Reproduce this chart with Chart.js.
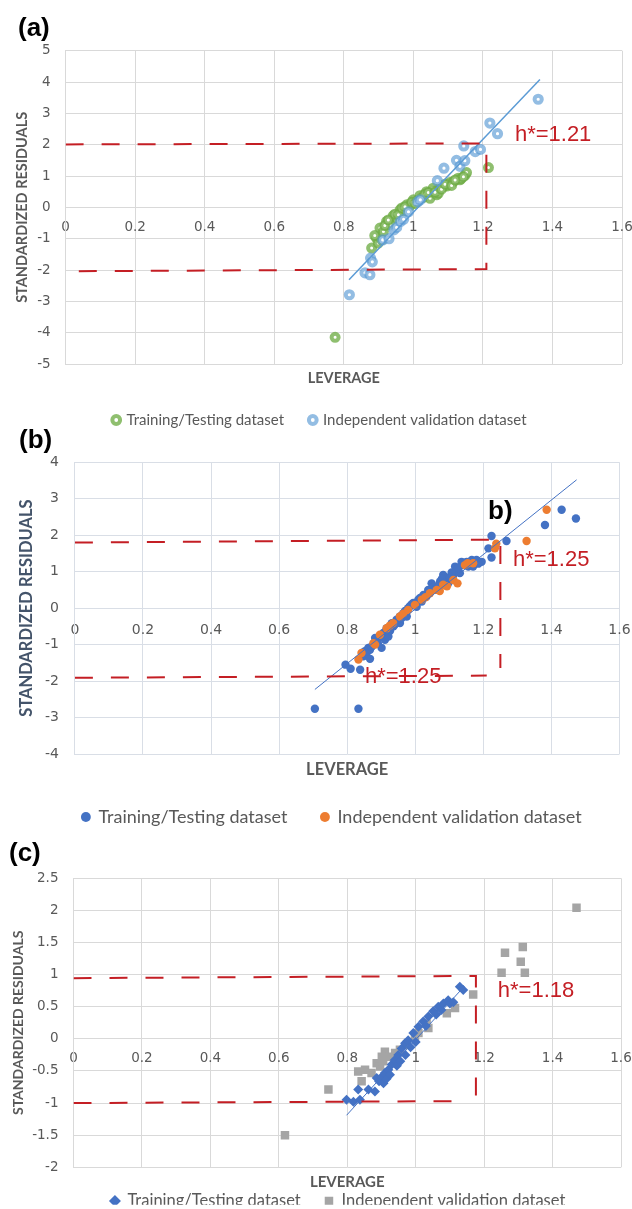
<!DOCTYPE html>
<html>
<head>
<meta charset="utf-8">
<script src="https://cdn.jsdelivr.net/npm/chart.js@4.4.1/dist/chart.umd.min.js"></script>
<style>
html, body { margin: 0; padding: 0; background: #ffffff; overflow: hidden; }
#wrap { position: relative; width: 632px; height: 1209px; }
#wrap canvas { position: absolute; left: 0; }
</style>
</head>
<body>
<div id="wrap">
  <canvas id="panelA"></canvas>
  <canvas id="panelB"></canvas>
  <canvas id="panelC"></canvas>
</div>
<script>
// ---------------- data ----------------
const seriesNames = ['Training/Testing dataset', 'Independent validation dataset'];
const xTickValues = [0, 0.2, 0.4, 0.6, 0.8, 1, 1.2, 1.4, 1.6];
const xTickLabels = ['0', '0.2', '0.4', '0.6', '0.8', '1', '1.2', '1.4', '1.6'];

// panel (a)
const aYTickValues = [-5, -4, -3, -2, -1, 0, 1, 2, 3, 4, 5];
const aYTickLabels = ['-5', '-4', '-3', '-2', '-1', '0', '1', '2', '3', '4', '5'];
const aTrainLev = [0.775, 0.880, 0.894, 0.899, 0.909, 0.904, 0.914, 0.923, 0.933, 0.942, 0.952, 0.962, 0.971, 0.981, 0.990, 1.000, 1.010, 1.019, 1.029, 1.038, 1.048, 1.048, 1.057, 1.067, 1.067, 1.072, 1.077, 1.086, 1.096, 1.096, 1.105, 1.115, 1.129, 1.134, 1.137, 1.149, 1.153, 1.216,
                   0.889, 0.918, 0.928, 0.947, 0.957, 0.967, 0.976, 0.995, 1.005, 1.024, 1.033, 1.043, 1.062, 1.081, 1.091, 1.110, 1.120, 1.144];
const aTrainRes = [-4.15, -1.30, -0.98, -1.14, -1.04, -0.66, -0.77, -0.45, -0.56, -0.27, -0.34, -0.08, -0.13, 0.08, 0.05, 0.24, 0.21, 0.37, 0.32, 0.50, 0.43, 0.29, 0.61, 0.54, 0.40, 0.45, 0.61, 0.66, 0.72, 0.68, 0.79, 0.82, 0.93, 0.88, 0.91, 1.03, 1.11, 1.27,
                   -0.90, -0.58, -0.40, -0.22, -0.24, -0.02, 0.02, 0.16, 0.12, 0.30, 0.42, 0.47, 0.48, 0.58, 0.74, 0.70, 0.87, 0.98];
const aValLev = [0.816, 0.861, 0.875, 0.877, 0.882, 0.912, 0.930, 0.944, 0.952, 0.963, 0.972, 0.986, 1.013, 1.020, 1.069, 1.088, 1.124, 1.134, 1.145, 1.148, 1.178, 1.193, 1.220, 1.242, 1.359];
const aValRes = [-2.79, -2.09, -2.15, -1.62, -1.74, -1.04, -1.00, -0.72, -0.64, -0.45, -0.38, -0.14, 0.18, 0.24, 0.85, 1.25, 1.50, 1.31, 1.96, 1.49, 1.78, 1.85, 2.69, 2.35, 3.45];
const aTrendLev = [0.815, 1.364];
const aTrendRes = [-2.31, 4.08];
const aLimitLev = [0, 1.21, 1.21, 0];
const aLimitRes = [2.01, 2.04, -1.97, -2.04];

// panel (b)
const bYTickValues = [-4, -3, -2, -1, 0, 1, 2, 3, 4];
const bYTickLabels = ['-4', '-3', '-2', '-1', '0', '1', '2', '3', '4'];
const bTrainLev = [0.705, 0.833, 0.795, 0.810, 0.838, 0.847, 0.857, 0.862, 0.867, 0.867, 0.877, 0.887, 0.890, 0.896, 0.901, 0.906, 0.911, 0.916, 0.921, 0.931, 0.945, 0.955, 0.955, 0.965, 0.975, 0.979, 0.994, 1.004, 1.009, 1.024, 1.033, 1.038, 1.048, 1.053, 1.063, 1.073, 1.082, 1.092, 1.097, 1.112, 1.117, 1.122, 1.131, 1.136, 1.141, 1.151, 1.156, 1.166, 1.170, 1.175, 1.180, 1.195, 1.215, 1.224, 1.224, 1.268, 1.381, 1.430, 1.472,
                   0.852, 0.872, 0.882, 0.926, 0.936, 0.940, 0.950, 0.960, 0.970, 0.984, 0.989, 1.014, 1.019, 1.028, 1.043, 1.058, 1.068, 1.078, 1.087, 1.102, 1.107, 1.127, 1.146, 1.161, 1.185];
const bTrainRes = [-2.76, -2.76, -1.55, -1.66, -1.69, -1.32, -1.23, -1.09, -1.39, -1.14, -1.00, -0.91, -0.96, -0.78, -1.09, -0.68, -0.87, -0.55, -0.78, -0.41, -0.32, -0.23, -0.41, -0.14, -0.23, 0.00, 0.14, 0.04, 0.23, 0.36, 0.32, 0.50, 0.68, 0.59, 0.55, 0.73, 0.91, 0.82, 0.68, 0.91, 1.14, 1.05, 0.96, 1.27, 1.18, 1.27, 1.14, 1.32, 1.14, 1.23, 1.32, 1.27, 1.64, 1.98, 1.39, 1.84, 2.28, 2.70, 2.46,
                   -1.18, -1.05, -0.82, -0.62, -0.50, -0.44, -0.30, -0.27, -0.08, 0.05, 0.10, 0.28, 0.18, 0.30, 0.45, 0.52, 0.62, 0.80, 0.70, 0.86, 0.98, 1.10, 1.22, 1.20, 1.22];
const bValLev = [0.833, 0.842, 0.877, 0.882, 0.896, 0.916, 0.925, 0.935, 0.955, 0.965, 0.979, 0.999, 1.019, 1.030, 1.043, 1.063, 1.072, 1.082, 1.093, 1.112, 1.124, 1.146, 1.154, 1.170, 1.234, 1.238, 1.327, 1.386];
const bValRes = [-1.41, -1.23, -0.96, -1.00, -0.73, -0.55, -0.48, -0.41, -0.23, -0.15, -0.05, 0.09, 0.23, 0.30, 0.41, 0.50, 0.47, 0.64, 0.60, 0.77, 0.68, 1.18, 1.23, 1.23, 1.64, 1.77, 1.84, 2.70];
const bTrendLev = [0.705, 1.474];
const bTrendRes = [-2.23, 3.52];
const bLimitUpLev = [0, 1.25, 1.25];
const bLimitUpRes = [1.80, 1.88, -1.64];
const bLimitLowLev = [0, 1.21];
const bLimitLowRes = [-1.91, -1.85];

// panel (c)
const cYTickValues = [-2, -1.5, -1, -0.5, 0, 0.5, 1, 1.5, 2, 2.5];
const cYTickLabels = ['-2', '-1.5', '-1', '-0.5', '0', '0.5', '1', '1.5', '2', '2.5'];
const cTrainLev = [0.798, 0.818, 0.837, 0.832, 0.862, 0.881, 0.886, 0.893, 0.901, 0.906, 0.910, 0.915, 0.920, 0.925, 0.930, 0.939, 0.945, 0.949, 0.955, 0.959, 0.969, 0.970, 0.978, 0.985, 0.993, 1.000, 1.008, 1.022, 1.030, 1.037, 1.051, 1.060, 1.066, 1.075, 1.081, 1.095, 1.100, 1.110, 1.129, 1.139];
const cTrainRes = [-0.95, -0.98, -0.95, -0.79, -0.79, -0.82, -0.61, -0.66, -0.59, -0.69, -0.53, -0.62, -0.48, -0.56, -0.40, -0.33, -0.42, -0.25, -0.35, -0.15, -0.07, -0.25, -0.02, -0.13, 0.09, -0.05, 0.19, 0.27, 0.20, 0.35, 0.43, 0.38, 0.50, 0.45, 0.55, 0.60, 0.55, 0.57, 0.81, 0.76];
const cValLev = [0.618, 0.745, 0.832, 0.842, 0.852, 0.871, 0.886, 0.896, 0.901, 0.905, 0.910, 0.925, 0.940, 0.954, 0.974, 0.998, 1.008, 1.032, 1.037, 1.091, 1.115, 1.168, 1.251, 1.261, 1.307, 1.313, 1.319, 1.470];
const cValRes = [-1.50, -0.79, -0.51, -0.66, -0.48, -0.53, -0.38, -0.43, -0.28, -0.35, -0.20, -0.28, -0.22, -0.17, -0.09, 0.04, 0.09, 0.24, 0.17, 0.40, 0.48, 0.69, 1.03, 1.34, 1.20, 1.43, 1.03, 2.04];
const cTrendLev = [0.798, 1.139];
const cTrendRes = [-1.19, 0.80];
const cLimitUpLev = [0, 1.176, 1.176];
const cLimitUpRes = [0.945, 0.98, -0.92];
const cLimitLowLev = [0, 1.11];
const cLimitLowRes = [-1.00, -0.97];

// ---------------- styling helpers ----------------
const RED = '#C41E24';
const TICK_COLOR = '#595959';
const FONT_TICK = "'DejaVu Sans', sans-serif";
const FONT_TEXT = "Lato, 'Liberation Sans', sans-serif";
const FONT_ARIAL = "'Liberation Sans', Arial, sans-serif";

function pts(xs, ys) { return xs.map((x, i) => ({ x: x, y: ys[i] })); }

const notesPlugin = {
  id: 'notes',
  afterLayout(chart, args, opts) {
    const L = chart.legend;
    if (L && opts.legendCenter !== undefined) {
      const shift = opts.legendCenter - (L.left + L.right) / 2;
      L.left += shift;
      L.right += shift;
    }
  },
  afterDatasetsDraw(chart, args, opts) {
    const ctx = chart.ctx;
    const xs = chart.scales.x, ys = chart.scales.y;
    ctx.save();
    (opts.items || []).forEach(n => {
      ctx.font = n.font;
      ctx.fillStyle = n.color;
      ctx.textAlign = 'left';
      ctx.textBaseline = 'middle';
      const px = n.canvas ? n.x : xs.getPixelForValue(n.x);
      const py = n.canvas ? n.y : ys.getPixelForValue(n.y);
      ctx.fillText(n.text, px, py);
    });
    ctx.restore();
  }
};

function panel(o) {
  const canvas = document.getElementById(o.id);
  canvas.width = 632; canvas.height = o.canvasH;
  canvas.style.width = '632px'; canvas.style.height = o.canvasH + 'px';
  canvas.style.top = o.canvasTop + 'px';
  const rel = v => v - o.canvasTop;
  const legNatural = o.legFont + o.legPad + 10;
  const legH = Math.min(legNatural, o.legMaxH);
  const legTop = rel(o.legendY) - o.legPad - o.legFont / 2;
  const x2Height = legTop - rel(o.area.bottom);
  const xTitlePadBottom = legTop - rel(o.xTitleY) - o.xTitleSize * 0.6;
  const yTitlePadTop = o.yTitleX - o.yTitleSize * 0.6;
  const padBottom = o.canvasH - legTop - legH;

  const lineDs = (data, color, width, dash) => ({
    label: 'line', data: data, showLine: true, pointRadius: 0, pointHoverRadius: 0,
    borderColor: color, borderWidth: width, borderDash: dash || [], tension: 0,
    fill: false, xAxisID: 'x', yAxisID: 'y', order: 1
  });

  const datasets = [
    Object.assign({ label: seriesNames[0], data: o.train, xAxisID: 'x', yAxisID: 'y', order: o.trainOrder }, o.trainStyle),
    Object.assign({ label: seriesNames[1], data: o.valid, xAxisID: 'x', yAxisID: 'y', order: o.validOrder }, o.validStyle),
    Object.assign(lineDs(o.trend, o.trendColor, o.trendWidth), { order: 2 })
  ];
  o.limits.forEach(l => datasets.push(lineDs(l, RED, 2, [18, 18])));

  return new Chart(canvas, {
    type: 'scatter',
    data: { datasets: datasets },
    plugins: [notesPlugin],
    options: {
      responsive: false,
      maintainAspectRatio: false,
      devicePixelRatio: 1,
      animation: false,
      events: [],
      layout: { padding: { left: 0, top: rel(o.area.top), right: 632 - o.area.right, bottom: padBottom } },
      scales: {
        x: {
          type: 'linear', min: 0, max: 1.6, position: { y: 0 },
          afterBuildTicks: s => { s.ticks = xTickValues.map(v => ({ value: v })); },
          afterFit: s => { s.paddingLeft = 0; s.paddingRight = 0; },
          grid: { color: o.gridColor, lineWidth: 1, drawTicks: false },
          border: { display: false },
          ticks: {
            autoSkip: false, maxRotation: 0, padding: o.xTickPad, color: TICK_COLOR,
            font: { family: FONT_TICK, size: o.tickSize },
            callback: (v, i) => xTickLabels[i]
          }
        },
        x2: {
          type: 'linear', min: 0, max: 1.6, position: 'bottom',
          afterFit: s => { s.height = x2Height; },
          grid: { display: false, drawTicks: false },
          border: { display: false },
          ticks: { display: false },
          title: {
            display: true, text: 'LEVERAGE', color: o.xTitleColor,
            font: { family: FONT_TEXT, size: o.xTitleSize, weight: 'bold' },
            padding: { top: 0, bottom: xTitlePadBottom }
          }
        },
        y: {
          type: 'linear', min: o.yMin, max: o.yMax, position: 'left',
          afterBuildTicks: s => { s.ticks = o.yTicks.map(v => ({ value: v })); },
          afterFit: s => { s.width = o.area.left; s.paddingTop = 0; s.paddingBottom = 0; },
          grid: { color: o.gridColor, lineWidth: 1, drawTicks: false },
          border: { color: o.gridColor },
          ticks: {
            autoSkip: false, padding: o.yTickPad, color: TICK_COLOR,
            font: { family: FONT_TICK, size: o.tickSize },
            callback: (v, i) => o.yLabels[i]
          },
          title: {
            display: true, text: 'STANDARDIZED RESIDUALS', color: o.yTitleColor,
            font: { family: FONT_TEXT, size: o.yTitleSize, weight: 'bold' },
            padding: { top: yTitlePadTop, bottom: 0 }
          }
        }
      },
      plugins: {
        tooltip: { enabled: false },
        title: { display: false },
        legend: {
          display: true, position: 'bottom', maxHeight: o.legMaxH,
          labels: {
            usePointStyle: true, boxWidth: o.legBox, boxHeight: o.legBox, padding: o.legPad,
            color: TICK_COLOR, font: { family: FONT_TEXT, size: o.legFont },
            filter: item => item.datasetIndex < 2,
            sort: (a, b) => a.datasetIndex - b.datasetIndex
          }
        },
        notes: { items: o.notes, legendCenter: o.legendCenter }
      }
    }
  });
}

// ---------------- panel (a) ----------------
panel({
  id: 'panelA', canvasTop: 0, canvasH: 440,
  area: { left: 65.6, top: 50.7, right: 622, bottom: 364 },
  yMin: -5, yMax: 5, yTicks: aYTickValues, yLabels: aYTickLabels,
  tickSize: 13.5, xTickPad: 12.4, yTickPad: 15,
  gridColor: '#D9D9D9',
  xTitleY: 378, xTitleSize: 14.5, xTitleColor: '#595959',
  yTitleX: 22, yTitleSize: 14.5, yTitleColor: '#595959',
  legendY: 420, legendCenter: 320, legFont: 15, legPad: 26, legMaxH: 51, legBox: 5.5,
  train: pts(aTrainLev, aTrainRes), valid: pts(aValLev, aValRes),
  trainOrder: 4, validOrder: 3,
  trainStyle: { pointStyle: 'circle', pointRadius: 3.5, pointHoverRadius: 3.5, borderWidth: 4, borderColor: 'rgba(112,173,71,0.78)', backgroundColor: '#ffffff' },
  validStyle: { pointStyle: 'circle', pointRadius: 3.6, pointHoverRadius: 3.6, borderWidth: 4, borderColor: 'rgba(91,155,213,0.66)', backgroundColor: '#ffffff' },
  trend: pts(aTrendLev, aTrendRes), trendColor: '#5B9BD5', trendWidth: 1.5,
  limits: [pts(aLimitLev, aLimitRes)],
  notes: [
    { text: '(a)', canvas: true, x: 18, y: 29, font: "bold 26px " + FONT_ARIAL, color: '#000000' },
    { text: 'h*=1.21', x: 1.292, y: 2.31, font: "22px " + FONT_ARIAL, color: RED }
  ]
});

// ---------------- panel (b) ----------------
panel({
  id: 'panelB', canvasTop: 426, canvasH: 414,
  area: { left: 74.9, top: 462.3, right: 619.5, bottom: 754 },
  yMin: -4, yMax: 4, yTicks: bYTickValues, yLabels: bYTickLabels,
  tickSize: 14, xTickPad: 13.7, yTickPad: 16,
  gridColor: '#D9DEE6',
  xTitleY: 770, xTitleSize: 16.5, xTitleColor: '#595959',
  yTitleX: 27, yTitleSize: 16.5, yTitleColor: '#44546A',
  legendY: 817, legendCenter: 332, legFont: 18, legPad: 34, legMaxH: 61, legBox: 7,
  train: pts(bTrainLev, bTrainRes), valid: pts(bValLev, bValRes),
  trainOrder: 4, validOrder: 3,
  trainStyle: { pointStyle: 'circle', pointRadius: 4.2, pointHoverRadius: 4.2, borderWidth: 0, borderColor: '#4472C4', backgroundColor: '#4472C4' },
  validStyle: { pointStyle: 'circle', pointRadius: 4.2, pointHoverRadius: 4.2, borderWidth: 0, borderColor: '#ED7D31', backgroundColor: '#ED7D31' },
  trend: pts(bTrendLev, bTrendRes), trendColor: '#4472C4', trendWidth: 1,
  limits: [pts(bLimitUpLev, bLimitUpRes), pts(bLimitLowLev, bLimitLowRes)],
  notes: [
    { text: '(b)', canvas: true, x: 19, y: 15, font: "bold 26px " + FONT_ARIAL, color: '#000000' },
    { text: 'b)', x: 1.214, y: 2.63, font: "bold 26px " + FONT_ARIAL, color: '#000000' },
    { text: 'h*=1.25', x: 1.287, y: 1.32, font: "22px " + FONT_ARIAL, color: RED },
    { text: 'h*=1.25', x: 0.852, y: -1.90, font: "22px " + FONT_ARIAL, color: RED }
  ]
});

// ---------------- panel (c) ----------------
panel({
  id: 'panelC', canvasTop: 832, canvasH: 377,
  area: { left: 73.5, top: 878.3, right: 621, bottom: 1167.3 },
  yMin: -2, yMax: 2.5, yTicks: cYTickValues, yLabels: cYTickLabels,
  tickSize: 13.5, xTickPad: 11.2, yTickPad: 15,
  gridColor: '#D9D9D9',
  xTitleY: 1181.7, xTitleSize: 15, xTitleColor: '#595959',
  yTitleX: 18.6, yTitleSize: 14, yTitleColor: '#595959',
  legendY: 1201, legendCenter: 338, legFont: 16.5, legPad: 24, legMaxH: 36, legBox: 8.5,
  train: pts(cTrainLev, cTrainRes), valid: pts(cValLev, cValRes),
  trainOrder: 3, validOrder: 4,
  trainStyle: { pointStyle: 'rectRot', pointRadius: 5, pointHoverRadius: 5, borderWidth: 0, borderColor: '#4472C4', backgroundColor: '#4472C4' },
  validStyle: { pointStyle: 'rect', pointRadius: 6, pointHoverRadius: 6, borderWidth: 0, borderColor: '#A5A5A5', backgroundColor: '#A5A5A5' },
  trend: pts(cTrendLev, cTrendRes), trendColor: '#4472C4', trendWidth: 1,
  limits: [pts(cLimitUpLev, cLimitUpRes), pts(cLimitLowLev, cLimitLowRes)],
  notes: [
    { text: '(c)', canvas: true, x: 9, y: 22, font: "bold 26px " + FONT_ARIAL, color: '#000000' },
    { text: 'h*=1.18', x: 1.24, y: 0.75, font: "22px " + FONT_ARIAL, color: RED }
  ]
});
</script>
</body>
</html>
